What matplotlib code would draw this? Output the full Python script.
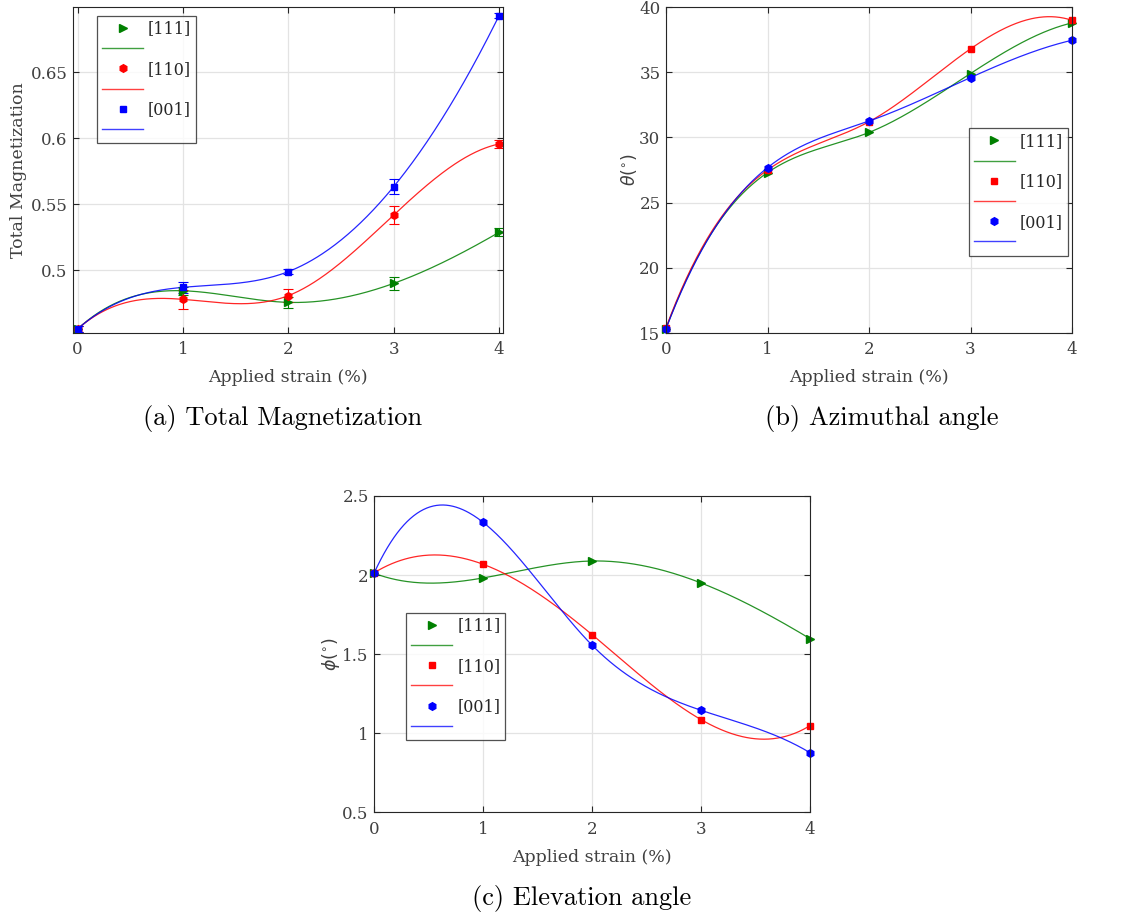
import numpy as np
import matplotlib
matplotlib.use("Agg")
import matplotlib.pyplot as plt
from matplotlib.lines import Line2D

# ---- data ----
strain = [0, 1, 2, 3, 4]
series_labels = ["[111]", "[110]", "[001]"]

mag_111 = [0.4555, 0.4845, 0.4757, 0.4901, 0.5288]
mag_110 = [0.4555, 0.4780, 0.4808, 0.5419, 0.5957]
mag_001 = [0.4555, 0.4871, 0.4990, 0.5634, 0.6930]
mag_err_111 = [0.002, 0.003, 0.004, 0.005, 0.003]
mag_err_110 = [0.002, 0.0073, 0.005, 0.0067, 0.003]
mag_err_001 = [0.002, 0.004, 0.002, 0.0057, 0.002]

theta_111 = [15.33, 27.30, 30.38, 34.90, 38.78]
theta_110 = [15.40, 27.50, 31.20, 36.79, 38.98]
theta_001 = [15.33, 27.68, 31.25, 34.59, 37.45]

phi_111 = [2.011, 1.982, 2.089, 1.950, 1.598]
phi_110 = [2.015, 2.068, 1.623, 1.086, 1.048]
phi_001 = [2.015, 2.333, 1.556, 1.145, 0.877]

GREEN = (0, 0.5, 0)
RED = (1, 0, 0)
BLUE = (0, 0, 1)
TXT = "#404040"
SERIF = "DejaVu Serif"


def spline_not_a_knot(x, y, xs):
    """Cubic spline with not-a-knot end conditions."""
    x = np.asarray(x, float)
    y = np.asarray(y, float)
    n = len(x)
    h = np.diff(x)
    A = np.zeros((n, n))
    b = np.zeros(n)
    A[0, 0], A[0, 1], A[0, 2] = h[1], -(h[0] + h[1]), h[0]
    for i in range(1, n - 1):
        A[i, i - 1] = h[i - 1]
        A[i, i] = 2 * (h[i - 1] + h[i])
        A[i, i + 1] = h[i]
        b[i] = 6 * ((y[i + 1] - y[i]) / h[i] - (y[i] - y[i - 1]) / h[i - 1])
    A[-1, -3], A[-1, -2], A[-1, -1] = h[-1], -(h[-2] + h[-1]), h[-2]
    M = np.linalg.solve(A, b)
    xs = np.asarray(xs, float)
    idx = np.clip(np.searchsorted(x, xs) - 1, 0, n - 2)
    xi, xj = x[idx], x[idx + 1]
    hi = h[idx]
    Mi, Mj = M[idx], M[idx + 1]
    yi, yj = y[idx], y[idx + 1]
    return (Mi * (xj - xs) ** 3 / (6 * hi) + Mj * (xs - xi) ** 3 / (6 * hi)
            + (yi / hi - Mi * hi / 6) * (xj - xs)
            + (yj / hi - Mj * hi / 6) * (xs - xi))


def style_axes(ax, xlim, ylim, yticks, ylabel, yfmt=None, ylabelpad=3):
    ax.set_xlim(*xlim)
    ax.set_ylim(*ylim)
    ax.set_xticks(strain)
    ax.set_yticks(yticks)
    if yfmt is not None:
        ax.set_yticklabels([yfmt(v) for v in yticks])
    ax.grid(True, color="#e3e3e3", linewidth=0.9)
    ax.set_axisbelow(True)
    ax.tick_params(direction="in", length=4, width=0.8, top=True, right=True,
                   colors="#262626", labelcolor=TXT, labelsize=12, pad=4)
    ax.tick_params(axis="x", pad=6)
    for lab in ax.get_xticklabels() + ax.get_yticklabels():
        lab.set_fontfamily(SERIF)
    for sp in ax.spines.values():
        sp.set_color("#262626")
        sp.set_linewidth(0.8)
    ax.set_xlabel("Applied strain (%)", fontsize=12.5, color=TXT,
                  fontfamily=SERIF, labelpad=8)
    ax.set_ylabel(ylabel, fontsize=12.5, color=TXT, fontfamily=SERIF,
                  labelpad=ylabelpad)


def add_legend(ax, markers, sizes, anchor):
    handles, labels = [], []
    for lab, col, mk, ms in zip(series_labels, [GREEN, RED, BLUE], markers,
                                sizes):
        handles.append(Line2D([], [], linestyle="none", marker=mk, color=col,
                              markersize=ms))
        labels.append(lab)
        handles.append(Line2D([], [], color=col, linewidth=1.0, alpha=0.75))
        labels.append(" ")
    leg = ax.legend(handles, labels, loc="upper left", bbox_to_anchor=anchor,
                    borderaxespad=0, frameon=True, fancybox=False,
                    handlelength=2.6, handletextpad=0.3, labelspacing=0.2,
                    borderpad=0.3, prop={"family": SERIF, "size": 11.5})
    leg.get_frame().set_edgecolor("#262626")
    leg.get_frame().set_linewidth(0.9)
    for t in leg.get_texts():
        t.set_color("#262626")
    return leg


xs = np.linspace(0, 4, 400)

fig = plt.figure(figsize=(11.21, 9.18), dpi=100)

# (a) Total magnetization
ax_a = fig.add_axes([73.3 / 1121, 1 - 333 / 918, 430 / 1121, 326 / 918])
for ys, err, col, mk, ms in [(mag_111, mag_err_111, GREEN, ">", 5.5),
                             (mag_110, mag_err_110, RED, "h", 5.5),
                             (mag_001, mag_err_001, BLUE, "s", 4.5)]:
    ax_a.plot(xs, spline_not_a_knot(strain, ys, xs), color=col, linewidth=0.9,
              alpha=0.85)
    ax_a.errorbar(strain, ys, yerr=err, fmt=mk, color=col, markersize=ms,
                  capsize=3.5, elinewidth=0.8, capthick=0.8)
style_axes(ax_a, (-0.04, 4.04), (0.4525, 0.6995), [0.5, 0.55, 0.6, 0.65],
           "Total Magnetization", lambda v: f"{v:g}")
add_legend(ax_a, [">", "h", "s"], [5.5, 5.5, 4.5], (0.055, 0.973))

# (b) Azimuthal angle
ax_b = fig.add_axes([666 / 1121, 1 - 333 / 918, 406 / 1121, 326 / 918])
for ys, col, mk, ms in [(theta_111, GREEN, ">", 5.5),
                        (theta_110, RED, "s", 4.5),
                        (theta_001, BLUE, "h", 5.5)]:
    ax_b.plot(xs, spline_not_a_knot(strain, ys, xs), color=col, linewidth=0.9,
              alpha=0.85)
    ax_b.plot(strain, ys, linestyle="none", marker=mk, color=col, markersize=ms,
              clip_on=False)
style_axes(ax_b, (0, 4), (15, 40), [15, 20, 25, 30, 35, 40],
           r"$\theta(^{\circ})$", ylabelpad=0)
add_legend(ax_b, [">", "s", "h"], [5.5, 4.5, 5.5], (0.7456, 0.628))

# (c) Elevation angle
ax_c = fig.add_axes([374.3 / 1121, 1 - 812.3 / 918, 435.7 / 1121, 316.3 / 918])
for ys, col, mk, ms in [(phi_111, GREEN, ">", 5.5),
                        (phi_110, RED, "s", 4.5),
                        (phi_001, BLUE, "h", 5.5)]:
    ax_c.plot(xs, spline_not_a_knot(strain, ys, xs), color=col, linewidth=0.9,
              alpha=0.85)
    ax_c.plot(strain, ys, linestyle="none", marker=mk, color=col, markersize=ms,
              clip_on=False)
style_axes(ax_c, (0, 4), (0.5, 2.5), [0.5, 1, 1.5, 2, 2.5],
           r"$\phi(^{\circ})$", lambda v: f"{v:g}", ylabelpad=0)
add_legend(ax_c, [">", "s", "h"], [5.5, 4.5, 5.5], (0.0728, 0.631))

# sub-figure captions
cap = dict(fontsize=19, family="cmr10", ha="center", va="center",
           color="black")
fig.text(283 / 1121, 1 - 418 / 918, "(a) Total Magnetization", **cap)
fig.text(882 / 1121, 1 - 418 / 918, "(b) Azimuthal angle", **cap)
fig.text(582 / 1121, 1 - 898 / 918, "(c) Elevation angle", **cap)

fig.savefig("out.png", dpi=100)
